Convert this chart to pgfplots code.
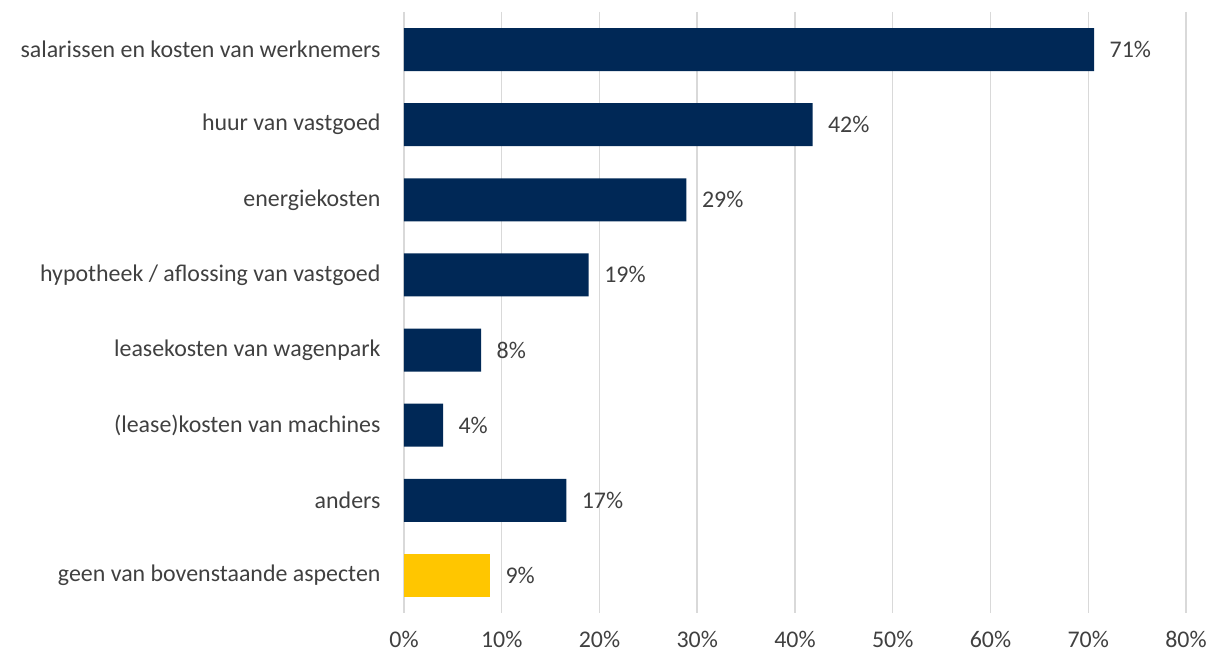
\documentclass[border=0pt]{standalone}
\usepackage{pgfplots}
\pgfplotsset{compat=1.18}
\usepackage{fontspec}
\setmainfont{Carlito}
\definecolor{navy}{HTML}{002856}
\definecolor{gold}{HTML}{FFC600}
\definecolor{gridc}{HTML}{D9D9D9}
\definecolor{txt}{HTML}{404040}
\begin{document}
\begin{tikzpicture}[x=1bp,y=1bp]
\path[use as bounding box] (-404,-40) rectangle (806,613);
\begin{axis}[
  at={(0,0)}, anchor=south west,
  scale only axis, width=782bp, height=601bp,
  xbar, bar width=0.572,
  xmin=0, xmax=80, ymin=-0.5, ymax=7.5, y dir=reverse,
  xtick={0,10,...,80},
  xticklabel={\pgfmathprintnumber{\tick}\%},
  ytick={0,...,7},
  yticklabels={salarissen en kosten van werknemers, huur van vastgoed, energiekosten, hypotheek / aflossing van vastgoed, leasekosten van wagenpark, (lease)kosten van machines, anders, geen van bovenstaande aspecten},
  axis line style={draw=none},
  major tick length=0pt,
  xmajorgrids, grid style={gridc, line width=1.5bp},
  tick label style={font=\fontsize{24}{28}\selectfont, text=txt},
  /pgf/number format/assume math mode=true,
  xticklabel style={yshift=-15bp},
  yticklabel style={xshift=-20bp},
  nodes near coords,
  point meta=explicit symbolic,
  every node near coord/.append style={font=\fontsize{24}{28}\selectfont, text=txt, anchor=west, xshift=12bp},
  clip=false,
]
\addplot[fill=navy, draw=none, bar shift=0pt] table[meta=lab] {
x y lab
70.6 0 71\%
41.8 1 42\%
28.9 2 29\%
18.9 3 19\%
7.9 4 8\%
4.0 5 4\%
16.6 6 17\%
};
\addplot[fill=gold, draw=none, bar shift=0pt] table[meta=lab] {
x y lab
8.8 7 9\%
};
\end{axis}
\end{tikzpicture}
\end{document}
